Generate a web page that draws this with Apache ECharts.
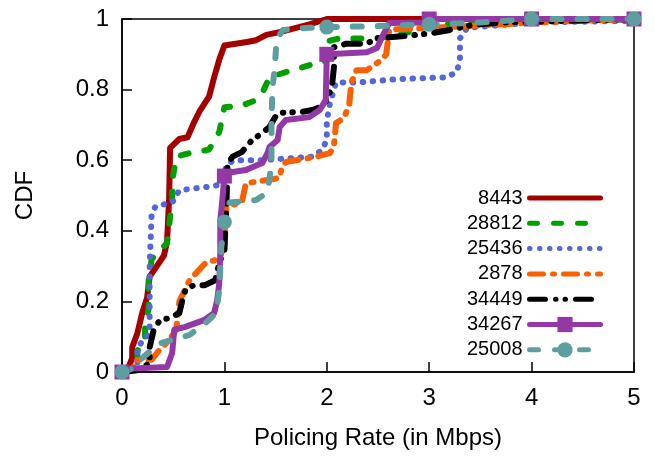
<!DOCTYPE html>
<html>
<head>
<meta charset="utf-8">
<script src="https://cdn.jsdelivr.net/npm/echarts@6/dist/echarts.min.js"></script>
<style>
html,body{margin:0;padding:0;background:#fff;}
#chart{width:655px;height:457px;}
</style>
</head>
<body>
<div id="chart"></div>
<script>
// ---- data ----
const seriesNames = ['8443', '28812', '25436', '2878', '34449', '34267', '25008'];
const xTicks = [0, 1, 2, 3, 4, 5];
const yTicks = [0, 0.2, 0.4, 0.6, 0.8, 1];
const markerX = [0, 1, 2, 3, 4, 5];

const cdf8443 = [[0,0],[0.06,0.01],[0.1,0.04],[0.1,0.07],[0.15,0.11],[0.2,0.17],[0.245,0.21],[0.27,0.27],[0.34,0.30],[0.41,0.33],[0.44,0.37],[0.46,0.49],[0.47,0.635],[0.56,0.66],[0.64,0.665],[0.70,0.705],[0.76,0.74],[0.85,0.78],[0.90,0.835],[0.95,0.885],[1.0,0.925],[1.22,0.935],[1.31,0.94],[1.41,0.955],[1.57,0.965],[1.83,0.985],[2.0,1.0],[5,1]];
const cdf28812 = [[0,0],[0.1,0.005],[0.15,0.03],[0.15,0.06],[0.225,0.09],[0.225,0.13],[0.26,0.18],[0.26,0.26],[0.29,0.32],[0.44,0.365],[0.49,0.49],[0.49,0.54],[0.53,0.61],[0.66,0.62],[0.85,0.63],[0.95,0.68],[1.0,0.75],[1.17,0.755],[1.31,0.77],[1.37,0.79],[1.44,0.835],[1.66,0.855],[1.9,0.875],[1.98,0.88],[1.98,0.935],[2.12,0.945],[2.49,0.945],[2.71,0.955],[3.0,0.98],[3.5,0.99],[4,1],[5,1]];
const cdf25436 = [[0,0],[0.1,0.005],[0.15,0.025],[0.15,0.07],[0.27,0.11],[0.27,0.155],[0.27,0.3],[0.29,0.45],[0.33,0.47],[0.49,0.48],[0.56,0.515],[0.85,0.525],[0.95,0.53],[1.03,0.59],[1.1,0.6],[1.37,0.6],[1.86,0.61],[1.96,0.63],[2.0,0.66],[2.0,0.71],[2.03,0.76],[2.09,0.82],[2.29,0.82],[2.71,0.83],[3.17,0.835],[3.27,0.85],[3.3,0.885],[3.3,0.945],[3.37,0.975],[4.01,0.99],[5,0.995]];
const cdf2878 = [[0,0],[0.1,0.005],[0.14,0.035],[0.29,0.035],[0.36,0.06],[0.46,0.09],[0.53,0.12],[0.56,0.2],[0.61,0.23],[0.66,0.26],[0.82,0.31],[0.95,0.32],[1.0,0.36],[1.02,0.47],[1.17,0.48],[1.21,0.535],[1.34,0.54],[1.54,0.55],[1.56,0.58],[1.6,0.595],[1.9,0.61],[2.03,0.62],[2.07,0.64],[2.09,0.705],[2.17,0.72],[2.22,0.76],[2.24,0.82],[2.29,0.855],[2.39,0.855],[2.54,0.885],[2.58,0.9],[2.61,0.97],[3.03,0.975],[3.37,0.98],[4.01,0.99],[5,1]];
const cdf34449 = [[0,0],[0.15,0.005],[0.27,0.025],[0.27,0.07],[0.31,0.12],[0.37,0.147],[0.47,0.153],[0.56,0.167],[0.59,0.204],[0.62,0.232],[0.70,0.246],[0.81,0.246],[0.91,0.26],[0.95,0.31],[1.0,0.345],[1.01,0.41],[1.02,0.467],[1.03,0.59],[1.08,0.61],[1.17,0.623],[1.27,0.657],[1.37,0.677],[1.44,0.694],[1.52,0.734],[1.76,0.737],[1.86,0.742],[1.93,0.75],[2.0,0.77],[2.05,0.81],[2.07,0.864],[2.07,0.92],[2.19,0.93],[2.39,0.93],[2.49,0.946],[2.64,0.949],[2.88,0.955],[3.03,0.96],[3.2,0.969],[3.42,0.983],[3.69,0.99],[5,1]];
const cdf34267 = [[0,0],[0.1,0.01],[0.44,0.014],[0.49,0.054],[0.51,0.12],[0.61,0.127],[0.8,0.147],[0.9,0.167],[0.93,0.204],[0.95,0.252],[0.96,0.337],[0.96,0.43],[0.98,0.487],[1,0.555],[1.02,0.564],[1.21,0.572],[1.37,0.592],[1.42,0.62],[1.44,0.637],[1.52,0.657],[1.54,0.694],[1.6,0.714],[1.83,0.722],[1.93,0.742],[1.99,0.77],[2,0.9],[2.39,0.906],[2.49,0.918],[2.54,0.949],[2.61,0.989],[2.97,0.99],[3,1],[4,1],[5,1]];
const cdf25008 = [[0,0],[0.1,0.01],[0.2,0.04],[0.36,0.08],[0.66,0.105],[0.82,0.14],[0.92,0.167],[0.95,0.232],[0.97,0.354],[1,0.425],[1.05,0.48],[1.31,0.487],[1.41,0.507],[1.44,0.544],[1.46,0.6],[1.46,0.714],[1.47,0.807],[1.49,0.855],[1.51,0.94],[1.57,0.969],[1.83,0.975],[2,0.977],[2.5,0.98],[3,0.985],[3.5,0.99],[4,1],[5,1]];

// ---- styles ----
const FONT = 'Liberation Sans, Arial, Helvetica, sans-serif';
const LW = 6;
const styles = [
  {color:'#a40000', dash:'solid', symbol:'none'},
  {color:'#00a000', dash:[8,16], symbol:'none'},
  {color:'#5566d6', dash:[0.5,9.5], symbol:'none'},
  {color:'#f86000', dash:[14,9,2,9], symbol:'none'},
  {color:'#000000', dash:[16,10,0.5,9,0.5,10], symbol:'none'},
  {color:'#9438a5', dash:'solid', symbol:'rect'},
  {color:'#5f9ea0', dash:[9,16], symbol:'circle'}
];
const allData = [cdf8443, cdf28812, cdf25436, cdf2878, cdf34449, cdf34267, cdf25008];

const series = allData.map((d, i) => {
  const st = styles[i];
  const data = d.map(p => {
    if (st.symbol !== 'none' && markerX.indexOf(p[0]) >= 0) return {value: p};
    return {value: p, symbol: 'none'};
  });
  return {
    name: seriesNames[i],
    type: 'line',
    data: data,
    symbol: st.symbol,
    symbolSize: 15,
    showSymbol: st.symbol !== 'none',
    showAllSymbol: true,
    clip: false,
    itemStyle: {color: st.color, opacity: 1},
    lineStyle: {color: st.color, width: LW, type: st.dash, cap: 'round', join: 'round'},
    emphasis: {disabled: true},
    animation: false
  };
});

const legendData = seriesNames.map((n, i) => (
  styles[i].symbol === 'none' ? {name: n, itemStyle: {opacity: 0}} : {name: n}
));

const chart = echarts.init(document.getElementById('chart'), null, {renderer: 'canvas'});
chart.setOption({
  backgroundColor: '#ffffff',
  animation: false,
  grid: {left: 122, right: 21, top: 19, bottom: 85, show: true, borderColor: '#000', borderWidth: 1.5, backgroundColor: 'transparent'},
  legend: {
    data: legendData,
    orient: 'vertical',
    align: 'right',
    right: 47,
    top: 183,
    itemWidth: 71,
    itemHeight: 19,
    itemGap: 5.3,
    lineStyle: {width: 5},
    textStyle: {fontFamily: FONT, fontSize: 20, color: '#000', lineHeight: 20, padding: [0, 2, 0, 0]},
    selectedMode: false
  },
  xAxis: {
    type: 'value', min: xTicks[0], max: xTicks[xTicks.length - 1], interval: 1,
    name: 'Policing Rate (in Mbps)', nameLocation: 'middle', nameGap: 54,
    nameTextStyle: {fontFamily: FONT, fontSize: 24, color: '#000'},
    axisLine: {show: true, lineStyle: {color: '#000', width: 1.5}},
    axisTick: {show: true, inside: true, length: 10, lineStyle: {color: '#000', width: 1.5}},
    axisLabel: {fontFamily: FONT, fontSize: 24, color: '#000', margin: 14},
    splitLine: {show: false}
  },
  yAxis: {
    type: 'value', min: yTicks[0], max: yTicks[yTicks.length - 1], interval: 0.2,
    name: 'CDF', nameLocation: 'middle', nameGap: 85,
    nameTextStyle: {fontFamily: FONT, fontSize: 24, color: '#000'},
    axisLine: {show: true, lineStyle: {color: '#000', width: 1.5}},
    axisTick: {show: true, inside: true, length: 10, lineStyle: {color: '#000', width: 1.5}},
    axisLabel: {fontFamily: FONT, fontSize: 24, color: '#000', margin: 13,
      formatter: v => String(Math.round(v * 10) / 10)},
    splitLine: {show: false}
  },
  series: series
});
</script>
</body>
</html>
